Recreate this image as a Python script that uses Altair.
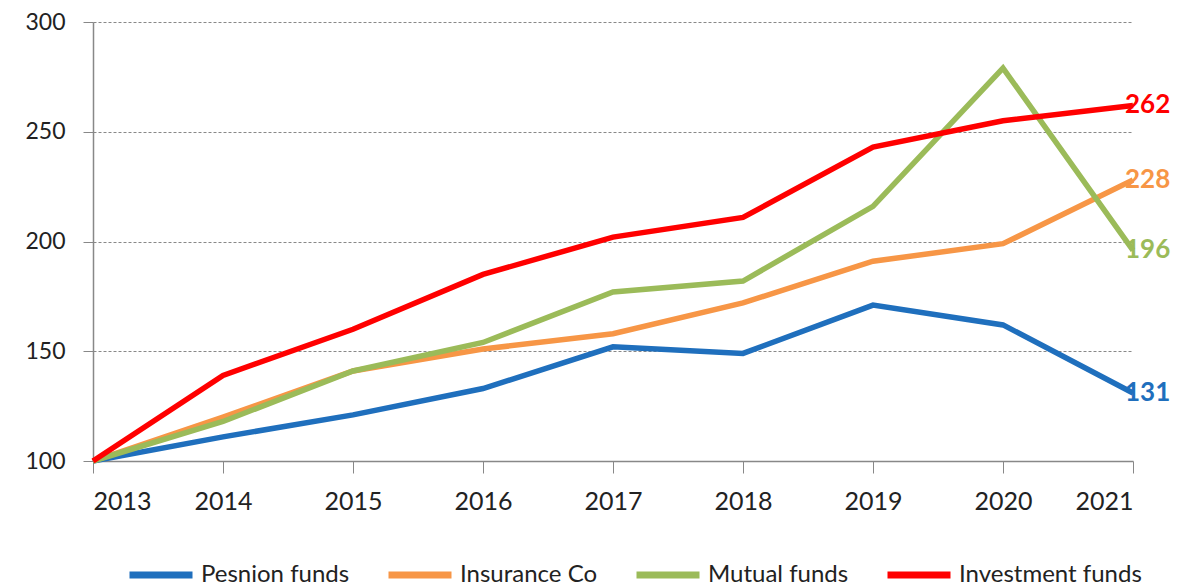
import altair as alt
import pandas as pd

years = [2013, 2014, 2015, 2016, 2017, 2018, 2019, 2020, 2021]
series_names = ["Pesnion funds", "Insurance Co", "Mutual funds", "Investment funds"]
pension = [100, 111, 121, 133, 152, 149, 171, 162, 131]
insurance = [100, 120, 141, 151, 158, 172, 191, 199, 228]
mutual = [100, 118, 141, 154, 177, 182, 216, 279, 196]
investment = [100, 139, 160, 185, 202, 211, 243, 255, 262]
colors = ["#1f6fbd", "#f79646", "#9bbb59", "#ff0000"]

rows = []
for name, vals in zip(series_names, [pension, insurance, mutual, investment]):
    for y, v in zip(years, vals):
        rows.append({"year": y, "value": v, "series": name})
df = pd.DataFrame(rows)
last = df[df["year"] == years[-1]].copy()
last["label"] = last["value"].astype(str)

FONT = "Lato"
color_scale = alt.Scale(domain=series_names, range=colors)

x = alt.X("year:Q", scale=alt.Scale(domain=[2013, 2021], nice=False, zero=False),
          axis=alt.Axis(values=years, format="d", title=None, grid=False,
                        labelFontSize=25, labelPadding=16, tickSize=12,
                        tickColor="#888", domainColor="#888", labelColor="#222",
                        labelFont=FONT))
y = alt.Y("value:Q", scale=alt.Scale(domain=[100, 300], nice=False, zero=False),
          axis=alt.Axis(values=[100, 150, 200, 250, 300], title=None,
                        labelFontSize=23, labelPadding=18, tickSize=10,
                        tickColor="#888", domainColor="#888", labelColor="#222",
                        gridColor="#888", gridDash=[3, 2], gridWidth=1,
                        labelFont=FONT))

lines = alt.Chart(df).mark_line(strokeWidth=5.5).encode(
    x=x, y=y,
    color=alt.Color("series:N", scale=color_scale, sort=series_names,
                    legend=alt.Legend(title=None, orient="none", direction="horizontal",
                                      legendX=33, legendY=518,
                                      symbolType="stroke", symbolSize=3969,
                                      symbolStrokeWidth=7, labelFontSize=24,
                                      labelFont=FONT, labelColor="#222",
                                      labelOffset=5, columnPadding=24,
                                      labelLimit=300)),
)

labels = alt.Chart(last).mark_text(align="left", baseline="middle", dx=-8,
                                   fontSize=26, fontWeight="bold", font=FONT).encode(
    x="year:Q", y="value:Q", text="label:N",
    color=alt.Color("series:N", scale=color_scale, legend=None),
)

chart = (lines + labels).properties(
    width=1040, height=439,
    autosize=alt.AutoSizeParams(type="none"),
    padding={"left": 85, "top": 14, "right": 54, "bottom": 126},
).configure_view(stroke=None).configure_axis(domainWidth=1.5)

chart.save("out.html", embed_options={"renderer": "svg", "actions": False})
